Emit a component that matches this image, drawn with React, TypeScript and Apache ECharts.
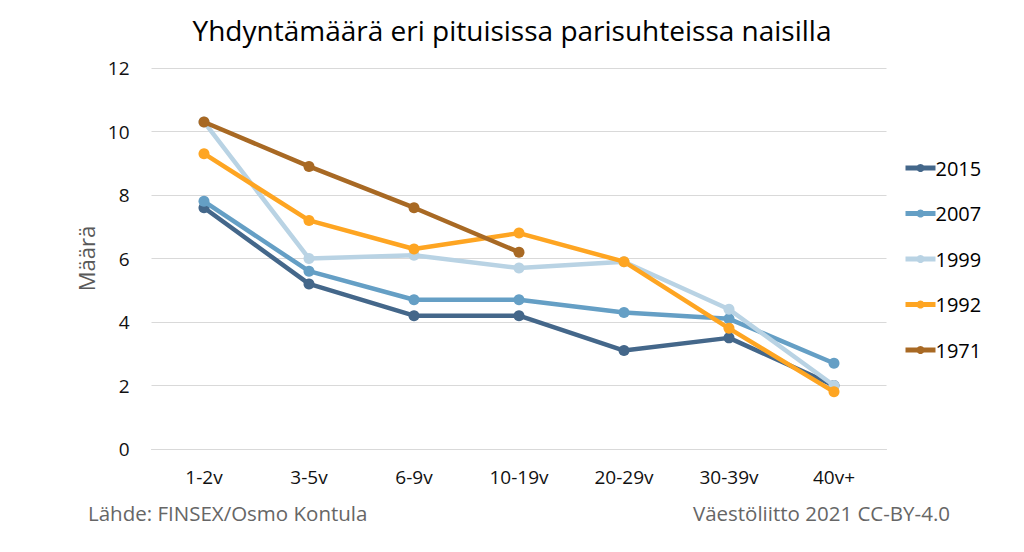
import React, { useEffect, useRef } from "react";
import * as echarts from "echarts";

const categories = ["1-2v", "3-5v", "6-9v", "10-19v", "20-29v", "30-39v", "40v+"];
const seriesNames = ["2015", "2007", "1999", "1992", "1971"];
const values2015 = [7.6, 5.2, 4.2, 4.2, 3.1, 3.5, 2.0];
const values2007 = [7.8, 5.6, 4.7, 4.7, 4.3, 4.1, 2.7];
const values1999 = [10.3, 6.0, 6.1, 5.7, 5.9, 4.4, 2.0];
const values1992 = [9.3, 7.2, 6.3, 6.8, 5.9, 3.8, 1.8];
const values1971 = [10.3, 8.9, 7.6, 6.2, null, null, null];
const colors = ["#44678a", "#659fc5", "#b9d3e4", "#fea522", "#a86924"];

const FONT = "'Open Sans', 'Noto Sans', sans-serif";

export default function App() {
  const ref = useRef<HTMLDivElement>(null);
  useEffect(() => {
    document.body.style.margin = "0";
    const chart = echarts.init(ref.current!, null, { renderer: "svg" });
    const data = [values2015, values2007, values1999, values1992, values1971];
    chart.setOption({
      animation: false,
      backgroundColor: "#ffffff",
      textStyle: { fontFamily: FONT },
      title: {
        text: "Yhdyntämäärä eri pituisissa parisuhteissa naisilla",
        left: "center",
        top: 11,
        textStyle: { fontFamily: FONT, fontSize: 28, fontWeight: "normal", color: "#000" },
      },
      legend: {
        orient: "vertical",
        left: 903,
        top: 158,
        padding: 0,
        itemWidth: 30,
        itemHeight: 10,
        itemGap: 25.5,
        data: seriesNames,
        lineStyle: { width: 5 },
        textStyle: { fontFamily: FONT, fontSize: 20, color: "#000", padding: [0, 0, 0, -5] },
      },
      grid: { left: 151.5, right: 137.5, top: 68, bottom: 103 },
      xAxis: {
        type: "category",
        data: categories,
        boundaryGap: true,
        axisLine: { lineStyle: { color: "#d9d9d9", width: 1 } },
        axisTick: { show: false },
        axisLabel: { fontFamily: FONT, fontSize: 19, color: "#111", margin: 18 },
      },
      yAxis: {
        type: "value",
        min: 0,
        max: 12,
        interval: 2,
        name: "Määrä",
        nameLocation: "middle",
        nameGap: 53,
        nameTextStyle: { fontFamily: FONT, fontSize: 22, color: "#595959" },
        axisLine: { show: false },
        axisTick: { show: false },
        axisLabel: { fontFamily: FONT, fontSize: 19, color: "#111", margin: 22 },
        splitLine: { lineStyle: { color: "#d9d9d9", width: 1 } },
      },
      graphic: [
        {
          type: "text",
          left: 88,
          top: 502,
          style: { text: "Lähde: FINSEX/Osmo Kontula", fontFamily: FONT, fontSize: 20.5, fill: "#666" },
        },
        {
          type: "text",
          right: 74,
          top: 502,
          style: { text: "Väestöliitto 2021 CC-BY-4.0", fontFamily: FONT, fontSize: 20.5, fill: "#666" },
        },
      ],
      series: seriesNames.map((name, i) => ({
        name,
        type: "line",
        data: data[i],
        symbol: "circle",
        symbolSize: 11,
        showSymbol: true,
        connectNulls: false,
        lineStyle: { width: 4.5, color: colors[i] },
        itemStyle: { color: colors[i] },
        z: 2 + i,
      })),
    });
    return () => chart.dispose();
  }, []);
  return <div ref={ref} style={{ width: 1024, height: 552 }} />;
}
